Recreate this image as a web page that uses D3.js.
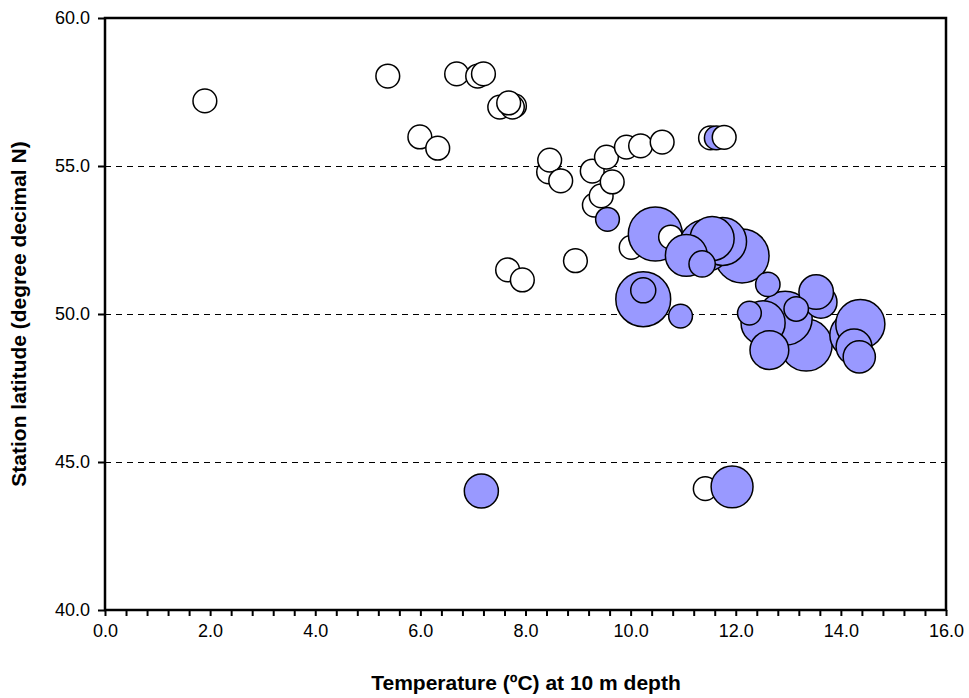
<!DOCTYPE html>
<html>
<head>
<meta charset="utf-8">
<script src="https://cdn.jsdelivr.net/npm/d3@7"></script>
<style>
  body { margin: 0; background: #fff; }
  text { font-family: "Liberation Sans", Arial, sans-serif; }
</style>
</head>
<body>
<div id="chart"></div>
<script>
// station data, in drawing order (later points sit on top)
// abundance 0 = species absent (open marker)
var temperature = [1.90, 5.38, 6.69, 7.09, 7.20, 7.51, 7.79, 7.75, 7.68, 5.99,
                   6.33, 8.44, 8.46, 8.67, 9.27, 9.54, 9.92, 10.19, 10.60, 9.31,
                   9.44, 9.65, 10.01, 8.95, 7.66, 7.94, 11.52, 11.63, 11.78, 11.42,
                   10.24, 10.47, 10.76, 13.34, 12.94, 12.12, 11.42, 11.75, 11.55, 14.21,
                   14.37, 12.52, 11.06, 11.93, 12.64, 14.25, 13.62, 13.53, 7.16, 14.35,
                   11.36, 12.61, 13.15, 12.26, 10.95, 10.24, 9.56];
var latitude = [57.20, 58.04, 58.11, 58.04, 58.11, 56.99, 57.03, 56.99, 57.13, 55.98,
                55.60, 54.80, 55.20, 54.50, 54.83, 55.30, 55.64, 55.68, 55.81, 53.68,
                53.99, 54.46, 52.25, 51.80, 51.49, 51.15, 55.95, 55.95, 55.97, 44.10,
                50.50, 52.70, 52.60, 48.95, 49.86, 51.96, 52.31, 52.45, 52.55, 49.29,
                49.66, 49.70, 51.98, 44.16, 48.78, 48.89, 50.40, 50.74, 44.02, 48.55,
                51.69, 51.00, 50.17, 50.03, 49.93, 50.80, 53.20];
var abundance = [0, 0, 0, 0, 0, 0, 0, 0, 0, 0,
                 0, 0, 0, 0, 0, 0, 0, 0, 0, 0,
                 0, 0, 0, 0, 0, 0, 0, 18, 0, 0,
                 96, 93, 0, 86, 93, 93, 86, 73, 62, 62,
                 77, 62, 56, 56, 48, 41, 33, 38, 37, 33,
                 22, 19, 19, 18, 18, 20, 18];
var absentMarker = 18;   // open circles drawn at a fixed size

var xTicks = d3.range(0, 16.01, 2);
var xMinorTicks = d3.range(0, 16.01, 0.4);
var yTicks = [40, 45, 50, 55, 60];
var yGrid = [45, 50, 55];

var W = 969, H = 698;
var margin = {top: 18, right: 23, bottom: 88, left: 105};
var width = W - margin.left - margin.right,
    height = H - margin.top - margin.bottom;

var svg = d3.select("#chart").append("svg")
    .attr("width", W).attr("height", H);
var g = svg.append("g")
    .attr("transform", "translate(" + margin.left + "," + margin.top + ")");

var x = d3.scaleLinear().domain([0, 16]).range([0, width]);
var y = d3.scaleLinear().domain([40, 60]).range([height, 0]);
var r = d3.scaleSqrt().domain([0, 100]).range([0, 28]);

// dashed gridlines
g.selectAll(".grid").data(yGrid).enter().append("line")
    .attr("x1", 0).attr("x2", width)
    .attr("y1", d => y(d)).attr("y2", d => y(d))
    .style("stroke", "#000").style("stroke-width", 1)
    .style("shape-rendering", "crispEdges")
    .style("stroke-dasharray", "6,5");

// bubbles
var pts = temperature.map((t, i) => ({t: t, lat: latitude[i], a: abundance[i]}));
g.selectAll(".bubble").data(pts).enter().append("circle")
    .attr("cx", d => x(d.t))
    .attr("cy", d => y(d.lat))
    .attr("r", d => r(d.a > 0 ? d.a : absentMarker))
    .style("fill", d => d.a > 0 ? "#9999ff" : "#fff")
    .style("stroke", "#000").style("stroke-width", 1.5);

// x axis: minor ticks every 0.4, labels every 2
g.append("g").attr("transform", "translate(0," + height + ")")
    .call(d3.axisBottom(x).tickValues(xMinorTicks).tickSize(6).tickFormat(""))
    .call(a => a.select(".domain").remove())
    .selectAll("line").style("stroke-width", 2);
var xAxis = g.append("g").attr("transform", "translate(0," + height + ")")
    .call(d3.axisBottom(x).tickValues(xTicks).tickSize(0).tickPadding(14).tickFormat(d3.format(".1f")));
xAxis.select(".domain").remove();
xAxis.attr("font-size", 18).attr("font-family", "Liberation Sans, Arial, sans-serif");

// y axis
var yAxis = g.append("g")
    .call(d3.axisLeft(y).tickValues(yTicks).tickSize(7).tickPadding(8).tickFormat(d3.format(".1f")));
yAxis.select(".domain").remove();
yAxis.selectAll("line").style("stroke-width", 2);
yAxis.attr("font-size", 18).attr("font-family", "Liberation Sans, Arial, sans-serif");

// plot frame
g.append("rect")
    .attr("width", width).attr("height", height)
    .style("fill", "none").style("stroke", "#000").style("stroke-width", 2.5);

// axis titles
svg.append("text")
    .attr("x", 526).attr("y", 690)
    .attr("text-anchor", "middle")
    .style("font-size", "21px").style("font-weight", "bold")
    .text("Temperature (ºC) at 10 m depth");
svg.append("text")
    .attr("transform", "translate(26," + (margin.top + height / 2) + ") rotate(-90)")
    .attr("text-anchor", "middle")
    .style("font-size", "21px").style("font-weight", "bold")
    .text("Station latitude (degree decimal N)");
</script>
</body>
</html>
